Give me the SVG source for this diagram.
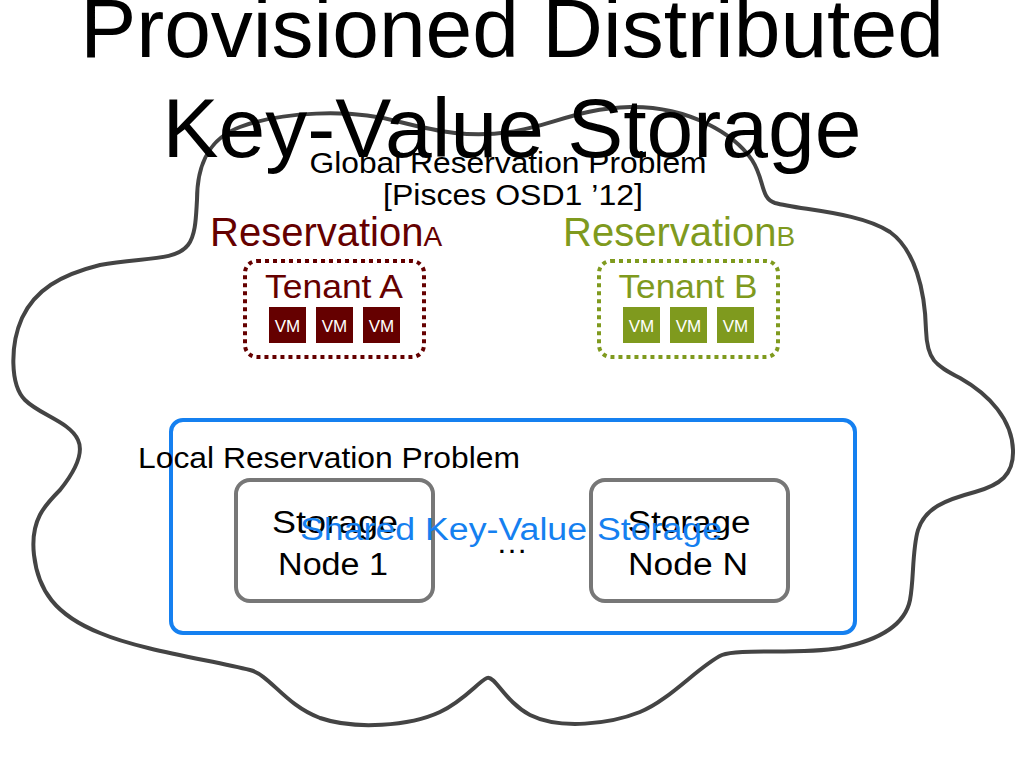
<svg xmlns="http://www.w3.org/2000/svg" width="1024" height="768" viewBox="0 0 1024 768">
<style>
text{font-family:"Liberation Sans",Arial,Helvetica,sans-serif}
.t{fill:#000}
.ra{fill:#650000}
.rb{fill:#7f9a1e}
.vma{fill:#650000}
.vmb{fill:#7f9a1e}
.vmt{fill:#fff;font-size:17px;text-anchor:middle}
.node{fill:#fff;stroke:#777;stroke-width:4}
</style>
<rect width="1024" height="768" fill="#fff"/>
<g id="cloud">
<path d="M197,200 C197,170 205,140 240,127 C280,112 350,108 400,122 C440,132 470,138 510,132 C550,126 580,108 630,107 C690,106 735,135 752,160 C765,180 760,198 775,203 C800,210 860,212 890,232 C915,250 925,290 926,330 C927,360 935,365 960,378 C990,395 1012,420 1013,450 C1014,475 1000,485 975,492 C945,500 925,508 918,530 C912,550 914,580 910,600 C905,625 880,640 840,648 C800,655 740,648 722,655 C700,665 670,700 640,712 C610,724 560,730 530,715 C505,702 495,675 487,678 C478,682 465,700 440,712 C410,726 355,730 320,718 C285,705 270,675 250,670 C210,660 140,650 100,633 C55,615 38,590 34,555 C30,520 45,505 60,490 C72,475 85,455 78,440 C70,422 40,415 25,400 C10,385 10,345 22,318 C35,290 60,275 100,265 C140,257 175,262 188,245 C196,235 196,215 197,200 Z" fill="none" stroke="#444" stroke-width="4"/>
</g>
<g id="title">
<text x="512" y="57" font-size="84" text-anchor="middle" class="t">Provisioned Distributed</text>
<text x="512" y="157" font-size="84" text-anchor="middle" class="t">Key-Value Storage</text>
</g>
<g id="global">
<text x="508" y="173" font-size="29" text-anchor="middle" textLength="397" lengthAdjust="spacingAndGlyphs" class="t">Global Reservation Problem</text>
<text x="513" y="205" font-size="29" text-anchor="middle" textLength="260" lengthAdjust="spacingAndGlyphs" class="t">[Pisces OSD1 ’12]</text>
</g>
<g id="reservationA">
<text x="210" y="246" font-size="40" class="ra">Reservation<tspan font-size="28">A</tspan></text>
</g>
<g id="reservationB">
<text x="563" y="246" font-size="40" class="rb">Reservation<tspan font-size="28">B</tspan></text>
</g>
<g id="tenantA">
<rect x="245" y="261" width="179" height="96" rx="12" fill="none" stroke="#650000" stroke-width="4" stroke-dasharray="4 4"/>
<text x="334" y="298" font-size="34" text-anchor="middle" textLength="138" lengthAdjust="spacingAndGlyphs" class="ra">Tenant A</text>
<rect x="269" y="307" width="37" height="36" class="vma"/>
<text x="287.5" y="332" class="vmt">VM</text>
<rect x="316" y="307" width="37" height="36" class="vma"/>
<text x="334.5" y="332" class="vmt">VM</text>
<rect x="363" y="307" width="37" height="36" class="vma"/>
<text x="381.5" y="332" class="vmt">VM</text>
</g>
<g id="tenantB">
<rect x="599" y="261" width="179" height="96" rx="12" fill="none" stroke="#7f9a1e" stroke-width="4" stroke-dasharray="4 4"/>
<text x="688" y="298" font-size="34" text-anchor="middle" textLength="139" lengthAdjust="spacingAndGlyphs" class="rb">Tenant B</text>
<rect x="623" y="307" width="37" height="36" class="vmb"/>
<text x="641.5" y="332" class="vmt">VM</text>
<rect x="670" y="307" width="37" height="36" class="vmb"/>
<text x="688.5" y="332" class="vmt">VM</text>
<rect x="717" y="307" width="37" height="36" class="vmb"/>
<text x="735.5" y="332" class="vmt">VM</text>
</g>
<g id="shared">
<rect x="171" y="420" width="684" height="213" rx="12" fill="none" stroke="#1580f0" stroke-width="4"/>
</g>
<g id="local">
<text x="138" y="468" font-size="29" textLength="382" lengthAdjust="spacingAndGlyphs" class="t">Local Reservation Problem</text>
</g>
<g id="node1">
<rect x="236" y="480" width="197" height="121" rx="14" class="node"/>
<text x="335" y="533" font-size="31" text-anchor="middle" textLength="126" lengthAdjust="spacingAndGlyphs" class="t">Storage</text>
<text x="333" y="575" font-size="31" text-anchor="middle" textLength="110" lengthAdjust="spacingAndGlyphs" class="t">Node 1</text>
</g>
<g id="nodeN">
<rect x="591" y="480" width="197" height="121" rx="14" class="node"/>
<text x="689" y="533" font-size="31" text-anchor="middle" textLength="123" lengthAdjust="spacingAndGlyphs" class="t">Storage</text>
<text x="688" y="575" font-size="31" text-anchor="middle" textLength="120" lengthAdjust="spacingAndGlyphs" class="t">Node N</text>
</g>
<g id="dots">
<text x="512" y="553" font-size="32" text-anchor="middle" class="t">…</text>
</g>
<g id="sharedLabel">
<text x="511" y="540" font-size="31" text-anchor="middle" textLength="422" lengthAdjust="spacingAndGlyphs" fill="#1580f0">Shared Key-Value Storage</text>
</g>
<g id="connectors"></g>
</svg>
